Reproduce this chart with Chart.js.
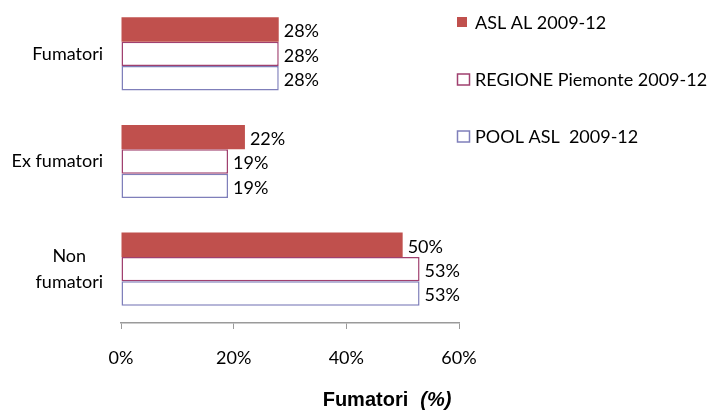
<!DOCTYPE html>
<html>
<head>
<meta charset="utf-8">
<script src="https://cdn.jsdelivr.net/npm/chart.js@4/dist/chart.umd.min.js"></script>
<style>
html,body{margin:0;padding:0;background:#fff;}
#wrap{width:710px;height:412px;position:relative;}
</style>
</head>
<body>
<div id="wrap"><canvas id="c" width="710" height="412"></canvas></div>
<script>
const categories = [["Fumatori"], ["Ex fumatori"], ["Non", "fumatori"]];
const aslAL = [28, 22, 50];
const regionePiemonte = [28, 19, 53];
const poolASL = [28, 19, 53];
const seriesNames = ["ASL AL 2009-12", "REGIONE Piemonte 2009-12", "POOL ASL  2009-12"];
const xTicks = [0, 20, 40, 60];

const FONT = "Lato, 'Open Sans', sans-serif";
const FS = 18;

const customDraw = {
  id: 'customDraw',
  afterDatasetsDraw(chart) {
    const ctx = chart.ctx;
    ctx.save();
    // data labels
    ctx.font = FS + "px " + FONT;
    ctx.fillStyle = "#000";
    ctx.textAlign = "left";
    ctx.textBaseline = "middle";
    chart.data.datasets.forEach((ds, di) => {
      const meta = chart.getDatasetMeta(di);
      meta.data.forEach((bar, i) => {
        ctx.fillText(ds.data[i] + "%", bar.x + 5, bar.y + 2);
      });
    });
    // category labels
    const ys = chart.scales.y;
    ctx.textAlign = "center";
    categories.forEach((lab, i) => {
      const cy = ys.getPixelForValue(i);
      const lh = 26;
      const widths = lab.map(l => ctx.measureText(l).width);
      const maxW = Math.max(...widths);
      const cx = 103 - maxW / 2;
      lab.forEach((l, k) => {
        ctx.fillText(l, cx, cy + (k - (lab.length - 1) / 2) * lh);
      });
    });
    // legend
    const legendY = [22, 79, 136];
    chart.data.datasets.forEach((ds, di) => {
      const y = legendY[di];
      if (di === 0) {
        ctx.fillStyle = ds.backgroundColor;
        ctx.fillRect(457, y - 5, 10, 10);
      } else {
        ctx.fillStyle = "#fff";
        ctx.fillRect(457, y - 5, 12, 11);
        ctx.strokeStyle = ds.borderColor;
        ctx.lineWidth = 1.5;
        ctx.strokeRect(457.5, y - 5, 12, 11);
      }
      ctx.fillStyle = "#000";
      ctx.textAlign = "left";
      ctx.font = FS + "px " + FONT;
      ctx.fillText(ds.label, 475, y + 1);
    });
    // axis title
    ctx.textBaseline = "middle";
    ctx.textAlign = "left";
    const f1 = "bold 20px 'Liberation Sans', Arial, sans-serif";
    const f2 = "bold italic 20px 'Liberation Sans', Arial, sans-serif";
    ctx.font = f1;
    const t1 = "Fumatori";
    const w1 = ctx.measureText(t1).width;
    ctx.font = f2;
    const t2 = "(%)";
    const w2 = ctx.measureText(t2).width;
    const gap = 12;
    const total = w1 + gap + w2;
    const sx = 387 - total / 2;
    ctx.font = f1;
    ctx.fillText(t1, sx, 400);
    ctx.font = f2;
    ctx.fillText(t2, sx + w1 + gap, 400);
    ctx.restore();
  }
};

new Chart(document.getElementById('c'), {
  type: 'bar',
  data: {
    labels: categories.map(c => c.join(' ')),
    datasets: [
      { label: seriesNames[0], data: aslAL, backgroundColor: '#C0504D', borderWidth: 0 },
      { label: seriesNames[1], data: regionePiemonte, backgroundColor: '#FFFFFF', borderColor: '#A0406F', borderWidth: 1.5, borderSkipped: false },
      { label: seriesNames[2], data: poolASL, backgroundColor: '#FFFFFF', borderColor: '#7F7FBA', borderWidth: 1.5, borderSkipped: false }
    ]
  },
  options: {
    indexAxis: 'y',
    responsive: false,
    animation: false,
    devicePixelRatio: 1,
    layout: { padding: { left: 0, right: 251, top: 0, bottom: 0 } },
    datasets: { bar: { categoryPercentage: 0.68, barPercentage: 1.0 } },
    plugins: { legend: { display: false }, tooltip: { enabled: false } },
    scales: {
      x: {
        min: 0, max: 60,
        afterBuildTicks(scale) { scale.ticks = xTicks.map(v => ({ value: v })); },
        afterFit(scale) { scale.height = 89; },
        grid: { drawOnChartArea: false, drawTicks: true, tickLength: 6, color: '#9a9a9a', lineWidth: 1 },
        border: { display: true, color: '#9a9a9a', width: 1.5 },
        ticks: { padding: 18, color: '#000', font: { family: FONT, size: FS }, callback: v => v + '%' }
      },
      y: {
        afterFit(scale) { scale.width = 121; },
        grid: { display: false },
        border: { display: false },
        ticks: { display: false }
      }
    }
  },
  plugins: [customDraw]
});
</script>
</body>
</html>
